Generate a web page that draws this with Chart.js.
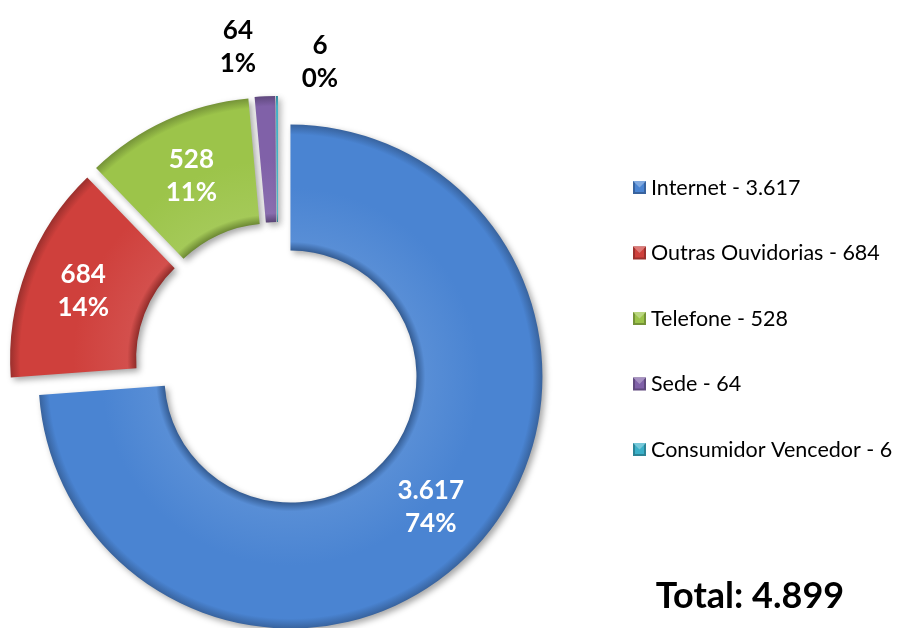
<!DOCTYPE html>
<html>
<head>
<meta charset="utf-8">
<script src="https://cdn.jsdelivr.net/npm/chart.js@4.4.1/dist/chart.umd.min.js"></script>
<style>
  html, body { margin: 0; padding: 0; background: #fff; }
  #wrap { position: relative; width: 901px; height: 628px; }
</style>
</head>
<body>
<div id="wrap"><canvas id="myChart"></canvas></div>
<script>
// data
const categories = ['Internet', 'Outras Ouvidorias', 'Telefone', 'Sede', 'Consumidor Vencedor'];
const values = [3617, 684, 528, 64, 6];
const colors = ['#4a84d2', '#cf403c', '#9cc44a', '#8061a8', '#3bb0c8'];

const fontFamily = 'Lato, "Open Sans", sans-serif';
const explodePx = 17;

const fmt = (n) => String(n).replace(/\B(?=(\d{3})+(?!\d))/g, '.');
const total = values.reduce((a, b) => a + b, 0);

function shade(hex, amt) {
    const n = parseInt(hex.slice(1), 16);
    let r = (n >> 16) & 255, g = (n >> 8) & 255, b = n & 255;
    const f = (c) => Math.max(0, Math.min(255, Math.round(amt < 0 ? c * (1 + amt) : c + (255 - c) * amt)));
    return `rgb(${f(r)},${f(g)},${f(b)})`;
}

// bevel-ish fill: darker at inner and outer edge of the ring
function ringFill(context) {
    const chart = context.chart;
    const area = chart.chartArea;
    const base = colors[context.dataIndex];
    if (!area) return base;
    const ctrl = chart.getDatasetMeta(0).controller;
    const outer = ctrl.outerRadius || 250;
    const inner = ctrl.innerRadius || 125;
    const cx = (area.left + area.right) / 2;
    const cy = (area.top + area.bottom) / 2;
    const g = chart.ctx.createRadialGradient(cx, cy, 0, cx, cy, outer);
    const fi = inner / outer;
    g.addColorStop(fi, shade(base, -0.3));
    g.addColorStop(fi + 0.035, shade(base, 0.08));
    g.addColorStop(0.75, base);
    g.addColorStop(0.96, base);
    g.addColorStop(1, shade(base, -0.25));
    return g;
}

// explode every slice by the same distance without changing its radius
const explodePlugin = {
    id: 'explode',
    afterDatasetUpdate(chart, args) {
        const meta = chart.getDatasetMeta(args.index);
        meta.data.forEach((arc) => {
            if (arc._exploded) return;
            const baseDraw = Object.getPrototypeOf(arc).draw;
            arc.draw = function (ctx) {
                const mid = (this.startAngle + this.endAngle) / 2;
                ctx.save();
                ctx.translate(Math.cos(mid) * explodePx, Math.sin(mid) * explodePx);
                baseDraw.call(this, ctx);
                ctx.restore();
            };
            arc._exploded = true;
        });
    },
    beforeDatasetsDraw(chart) {
        const ctx = chart.ctx;
        ctx.save();
        ctx.shadowColor = 'rgba(0,0,0,0.35)';
        ctx.shadowBlur = 6;
        ctx.shadowOffsetX = 3;
        ctx.shadowOffsetY = 3;
    },
    afterDatasetsDraw(chart) {
        chart.ctx.restore();
    }
};

const labelPlugin = {
    id: 'sliceLabels',
    afterDatasetsDraw(chart, args, opts) {
        const ctx = chart.ctx;
        const meta = chart.getDatasetMeta(0);
        const ds = chart.data.datasets[0];
        ctx.save();
        ctx.font = 'bold 26px ' + fontFamily;
        ctx.textAlign = 'center';
        ctx.textBaseline = 'middle';
        meta.data.forEach((arc, i) => {
            const p = arc.getProps(['x', 'y', 'startAngle', 'endAngle', 'innerRadius', 'outerRadius']);
            const mid = (p.startAngle + p.endAngle) / 2;
            const v = ds.data[i];
            const pct = Math.round(v / total * 100) + '%';
            const nudge = opts.outside[i];
            let x, y;
            if (nudge) {
                const r = p.outerRadius + explodePx;
                x = p.x + Math.cos(mid) * r + nudge[0];
                y = p.y + Math.sin(mid) * r + nudge[1];
                ctx.fillStyle = '#000';
            } else {
                const r = p.innerRadius + (p.outerRadius - p.innerRadius) * 0.52 + explodePx;
                x = p.x + Math.cos(mid) * r;
                y = p.y + Math.sin(mid) * r;
                ctx.fillStyle = '#fff';
            }
            ctx.fillText(fmt(v), x, y - 16);
            ctx.fillText(pct, x, y + 17);
        });
        ctx.restore();
    }
};

const legendPlugin = {
    id: 'sideLegend',
    afterDraw(chart, args, opts) {
        const ctx = chart.ctx;
        const labels = chart.data.labels;
        const data = chart.data.datasets[0].data;
        ctx.save();
        ctx.font = '21.5px ' + fontFamily;
        ctx.textBaseline = 'middle';
        ctx.textAlign = 'left';
        labels.forEach((lab, i) => {
            const y = opts.top + i * opts.step;
            const bx = opts.left, by = y - 6, s = 13;
            const c = colors[i];
            ctx.fillStyle = shade(c, -0.25);
            ctx.fillRect(bx, by, s, s);
            ctx.fillStyle = c;
            ctx.fillRect(bx + 2, by + 2, s - 4, s - 4);
            ctx.fillStyle = shade(c, 0.3);
            ctx.beginPath();
            ctx.moveTo(bx, by);
            ctx.lineTo(bx + s, by);
            ctx.lineTo(bx + s / 2, by + s / 2);
            ctx.closePath();
            ctx.fill();
            ctx.fillStyle = '#000';
            ctx.fillText(`${lab} - ${fmt(data[i])}`, bx + 18, y + 1);
        });
        ctx.font = 'bold 36px ' + fontFamily;
        ctx.textAlign = 'center';
        ctx.fillText(`Total: ${fmt(total)}`, opts.totalX, opts.totalY);
        ctx.restore();
    }
};

new Chart(document.getElementById('myChart'), {
    type: 'doughnut',
    data: {
        labels: categories,
        datasets: [{
            data: values,
            backgroundColor: ringFill,
            borderWidth: 0,
            offset: 0
        }]
    },
    options: {
        responsive: true,
        maintainAspectRatio: false,
        animation: false,
        cutout: '50%',
        radius: 252,
        layout: { padding: { left: 0, right: 345, top: 102, bottom: 0 } },
        plugins: {
            legend: { display: false },
            tooltip: { enabled: false },
            sliceLabels: { outside: { 3: [-27, -50], 4: [43, -34] } },
            sideLegend: { left: 633, top: 187, step: 65.5, totalX: 750, totalY: 596 }
        }
    },
    plugins: [explodePlugin, labelPlugin, legendPlugin]
});
</script>
</body>
</html>
